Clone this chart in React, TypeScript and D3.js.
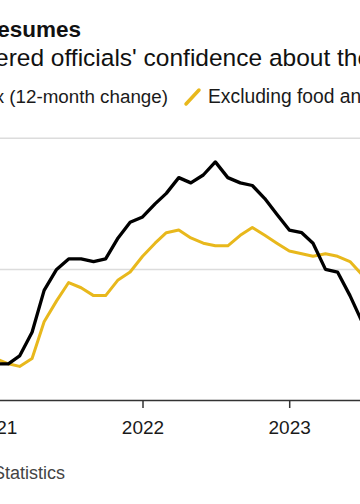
import React from "react";
import * as d3 from "d3";

const months: string[] = [
  "2020-10", "2020-11", "2020-12",
  "2021-01", "2021-02", "2021-03", "2021-04", "2021-05", "2021-06",
  "2021-07", "2021-08", "2021-09", "2021-10", "2021-11", "2021-12",
  "2022-01", "2022-02", "2022-03", "2022-04", "2022-05", "2022-06",
  "2022-07", "2022-08", "2022-09", "2022-10", "2022-11", "2022-12",
  "2023-01", "2023-02", "2023-03", "2023-04", "2023-05", "2023-06",
  "2023-07", "2023-08",
];

const cpi: number[] = [
  1.2, 1.2, 1.4,
  1.4, 1.7, 2.6, 4.2, 5.0, 5.4, 5.4, 5.3, 5.4, 6.2, 6.8, 7.0,
  7.5, 7.9, 8.5, 8.3, 8.6, 9.1, 8.5, 8.3, 8.2, 7.7, 7.1, 6.5,
  6.4, 6.0, 5.0, 4.9, 4.0, 3.0, 3.2, 3.7,
];

const core: number[] = [
  1.6, 1.6, 1.6,
  1.4, 1.3, 1.6, 3.0, 3.8, 4.5, 4.3, 4.0, 4.0, 4.6, 4.9, 5.5,
  6.0, 6.4, 6.5, 6.2, 6.0, 5.9, 5.9, 6.3, 6.6, 6.3, 6.0, 5.7,
  5.6, 5.5, 5.6, 5.5, 5.3, 4.8, 4.7, 4.3,
];

const yearTicks: number[] = [2021, 2022, 2023, 2024];
const gridValues: number[] = [5, 10];

const W = 360;
const H = 504;
const FONT = "'Liberation Sans', Arial, Helvetica, sans-serif";
const BLACK = "#000000";
const YELLOW = "#e8b81c";

// month-end date for each observation
const dates = months.map((m) => {
  const [y, mo] = m.split("-").map(Number);
  return new Date(Date.UTC(y, mo, 0));
});

export default function App() {
  const x = d3
    .scaleUtc()
    .domain([new Date(Date.UTC(2022, 0, 1)), new Date(Date.UTC(2023, 0, 1))])
    .range([143, 289.7]);
  const y = d3.scaleLinear().domain([0, 10]).range([400.5, 138.3]);

  const line = d3
    .line<number>()
    .x((_, i) => x(dates[i]))
    .y((d) => y(d));

  const axisY = y(0);

  return (
    <svg
      width={W}
      height={H}
      viewBox={`0 0 ${W} ${H}`}
      style={{ position: "absolute", left: 0, top: 0, display: "block", background: "#fff" }}
      fontFamily={FONT}
    >
      <rect x={0} y={0} width={W} height={H} fill="#fff" />

      {/* title / subtitle */}
      <text x={81} y={37} textAnchor="end" fontSize={22.5} fontWeight={700} fill="#111">
        Resumes
      </text>
      <text x={-5} y={66} fontSize={24.5} fill="#111">
        ered officials' confidence about the path of inflation
      </text>

      {/* legend */}
      <text x={168} y={103} textAnchor="end" fontSize={18.8} fill="#1a1a1a">
        Consumer Price Index (12-month change)
      </text>
      <line x1={186} y1={104} x2={199} y2={90} stroke={YELLOW} strokeWidth={3.5} strokeLinecap="round" />
      <text x={208} y={103} fontSize={19.3} fill="#1a1a1a">
        Excluding food and energy
      </text>

      {/* gridlines */}
      {gridValues.map((v) => (
        <line key={v} x1={0} x2={W} y1={y(v)} y2={y(v)} stroke="#dcdcdc" strokeWidth={1.5} />
      ))}

      {/* lines */}
      <path d={line(core) || ""} fill="none" stroke={YELLOW} strokeWidth={3} strokeLinejoin="round" />
      <path d={line(cpi) || ""} fill="none" stroke={BLACK} strokeWidth={3.3} strokeLinejoin="round" />

      {/* x axis */}
      <line x1={0} x2={W} y1={axisY} y2={axisY} stroke="#333" strokeWidth={1.5} />
      {yearTicks.map((yr) => {
        const tx = x(new Date(Date.UTC(yr, 0, 1)));
        return (
          <g key={yr}>
            <line x1={tx} x2={tx} y1={axisY} y2={axisY + 7.5} stroke="#333" strokeWidth={1.5} />
            <text x={tx} y={434} textAnchor="middle" fontSize={19} fill="#1a1a1a">
              {String(yr)}
            </text>
          </g>
        );
      })}

      {/* source */}
      <text x={65} y={479} textAnchor="end" fontSize={18} fill="#444">
        Source: Bureau of Labor Statistics
      </text>
    </svg>
  );
}
